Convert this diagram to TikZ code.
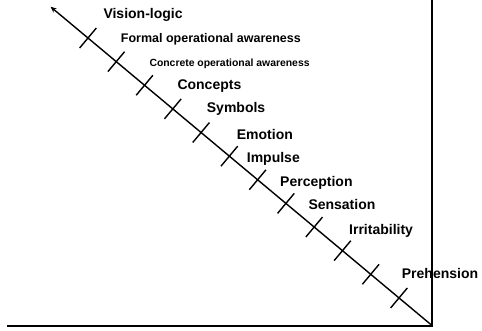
\documentclass[tikz,border=0pt]{standalone}
\usepackage{fontspec}
\setmainfont{Liberation Sans}
\usetikzlibrary{arrows.meta,calc}
\begin{document}
\begin{tikzpicture}[x=1pt,y=-1pt,
  lbl/.style={anchor=base west,inner sep=0pt,font=\bfseries\fontsize{14}{16}\selectfont},
  lblm/.style={lbl,font=\bfseries\fontsize{12.5}{14}\selectfont},
  lbls/.style={lbl,font=\bfseries\fontsize{10.4}{12}\selectfont},
  axis/.style={line width=2pt,line join=miter},
  diag/.style={line width=1.4pt},
  tickmark/.style={line width=1.4pt}]
\useasboundingbox[fill=white] (0,0) rectangle (482,331);
\coordinate (O) at (432,325.5);
\coordinate (L) at (7,325.5);
\coordinate (T) at (432,0);
\coordinate (A) at (50.5,6.7);
\node[lbl]  (vl) at (103.3,19)   {Vision-logic};
\node[lblm] (fo) at (120.7,42.7) {Formal operational awareness};
\node[lbls] (co) at (149.3,66.7) {Concrete operational awareness};
\node[lbl]  (cp) at (177.3,89.3) {Concepts};
\node[lbl]  (sy) at (206.7,113)  {Symbols};
\node[lbl]  (em) at (236.7,139.5){Emotion};
\node[lbl]  (im) at (246.7,162.5){Impulse};
\node[lbl]  (pe) at (280,186.5)  {Perception};
\node[lbl]  (se) at (308.3,210)  {Sensation};
\node[lbl]  (ir) at (349,234.5)  {Irritability};
\node[lbl]  (pr) at (401.7,278)  {Prehension};
\draw[axis] (L) -- (O) -- (T);
\draw[diag,-{Stealth[length=6pt,width=5pt]}] (O) -- (A);
\foreach \i in {0,...,11} {
  \pgfmathsetmacro\d{43+36.85*\i}
  \coordinate (k\i) at ($(O)!\d pt!(A)$);
  \draw[tickmark] ($(k\i)+(8.34,-9.97)$) -- ($(k\i)+(-8.34,9.97)$);
}
\end{tikzpicture}
\end{document}
